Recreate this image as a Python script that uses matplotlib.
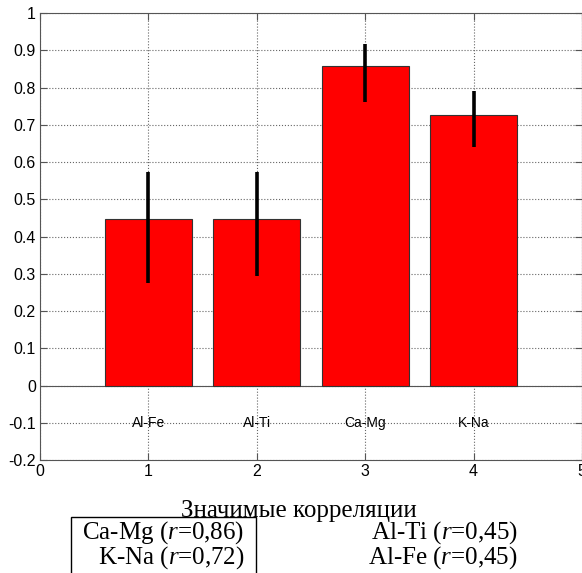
import numpy as np
import matplotlib.pyplot as plt
from matplotlib.patches import Rectangle

plt.rcParams['font.family'] = ['Liberation Sans', 'DejaVu Sans']
plt.rcParams['mathtext.fontset'] = 'custom'
plt.rcParams['mathtext.it'] = 'Liberation Serif:italic'
plt.rcParams['mathtext.rm'] = 'Liberation Serif'

# data
pairs = ['Al-Fe', 'Al-Ti', 'Ca-Mg', 'K-Na']
positions = [1, 2, 3, 4]
corr = [0.448, 0.448, 0.857, 0.725]
err_low = [0.275, 0.294, 0.762, 0.641]
err_high = [0.573, 0.573, 0.918, 0.792]
yticks = [-0.2, -0.1, 0, 0.1, 0.2, 0.3, 0.4, 0.5, 0.6, 0.7, 0.8, 0.9, 1]
ytick_labels = ['-0.2', '-0.1', '0', '0.1', '0.2', '0.3', '0.4', '0.5', '0.6',
                '0.7', '0.8', '0.9', '1']
strong = ['Ca-Mg ($r$=0,86)', 'K-Na ($r$=0,72)']
weak = ['Al-Ti ($r$=0,45)', 'Al-Fe ($r$=0,45)']

fig = plt.figure(figsize=(5.82, 5.73), dpi=100)
ax = fig.add_axes([40 / 582, 1 - 460.2 / 573, 542 / 582, 447.2 / 573])

ax.bar(positions, corr, width=0.8, color='#ff0000', edgecolor='#333333',
       linewidth=0.8, zorder=2)
lo = np.array(corr) - np.array(err_low)
hi = np.array(err_high) - np.array(corr)
ax.errorbar(positions, corr, yerr=[lo, hi], fmt='none', ecolor='black',
            elinewidth=2.6, capsize=0, zorder=3)

ax.set_xlim(0, 5)
ax.set_ylim(-0.2, 1)
ax.set_xticks([0, 1, 2, 3, 4, 5])
ax.set_yticks(yticks)
ax.set_yticklabels(ytick_labels)
ax.tick_params(direction='in', length=5, top=True, right=True,
               labelsize=11.5, colors='#555555', labelcolor='black', pad=3)
ax.grid(True, linestyle=':', color='#666666', linewidth=0.8, zorder=0)
ax.set_axisbelow(True)
for s in ax.spines.values():
    s.set_color('#555555')
ax.axhline(0, color='#555555', linewidth=0.8, zorder=1)

for x, name in zip(positions, pairs):
    ax.text(x, -0.1, name, ha='center', va='center', fontsize=10)

# caption under the plot
serif = ['Liberation Serif', 'DejaVu Serif']
fig.text(299 / 582, 1 - 516.7 / 573, 'Значимые корреляции', ha='center',
         va='baseline', fontsize=18, family=serif)
fig.patches.append(Rectangle((70.7 / 582, -0.05), (256 - 70.7) / 582,
                             0.05 + 1 - 516.7 / 573, transform=fig.transFigure,
                             fill=False, edgecolor='black', linewidth=1))
for i, (s, w) in enumerate(zip(strong, weak)):
    yb = 1 - (538.3 + 25 * i) / 573
    fig.text(244 / 582, yb, s, ha='right', va='baseline', fontsize=18,
             family=serif)
    fig.text(518 / 582, yb, w, ha='right', va='baseline', fontsize=18,
             family=serif)

fig.savefig('out.png', dpi=100)
